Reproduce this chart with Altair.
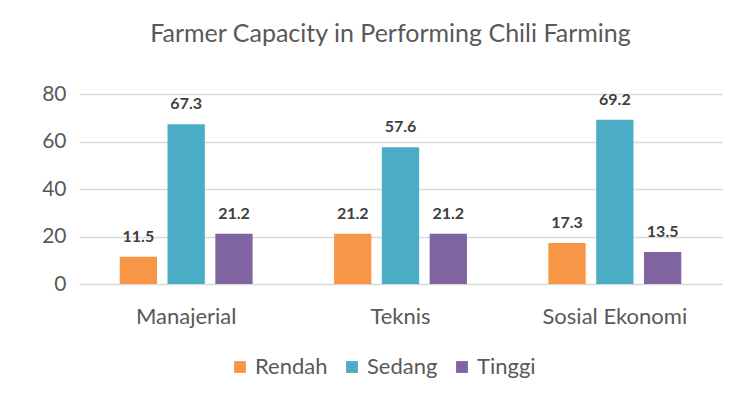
import altair as alt
import pandas as pd

categories = ["Manajerial", "Teknis", "Sosial Ekonomi"]
levels = ["Rendah", "Sedang", "Tinggi"]
rendah = [11.5, 21.2, 17.3]
sedang = [67.3, 57.6, 69.2]
tinggi = [21.2, 21.2, 13.5]
colors = ["#F79646", "#4BACC6", "#8064A2"]

rows = []
for i, c in enumerate(categories):
    for lvl, vals in zip(levels, [rendah, sedang, tinggi]):
        rows.append({"Aspek": c, "Level": lvl, "Nilai": vals[i]})
df = pd.DataFrame(rows)

FONT = "Lato"

base = alt.Chart(df).encode(
    x=alt.X("Aspek:N", sort=categories, title=None,
            scale=alt.Scale(paddingInner=0.38, paddingOuter=0.19),
            axis=alt.Axis(labelAngle=0, labelFontSize=22, labelColor="#595959",
                          labelFont=FONT, ticks=False, domain=False, labelPadding=22)),
    xOffset=alt.XOffset("Level:N", sort=levels, scale=alt.Scale(paddingInner=0.22, paddingOuter=0.0)),
    y=alt.Y("Nilai:Q", title=None, scale=alt.Scale(domain=[0, 80]),
            axis=alt.Axis(values=[0, 20, 40, 60, 80], labelFontSize=21, labelColor="#595959",
                          labelFont=FONT, ticks=False, domain=False, labelPadding=13,
                          gridColor="#d9d9d9", gridWidth=1.3)),
)

bars = base.mark_bar().encode(
    color=alt.Color("Level:N", sort=levels,
                    scale=alt.Scale(domain=levels, range=colors),
                    legend=alt.Legend(title=None, orient="none", direction="horizontal",
                                      legendX=150, legendY=262, symbolType="square",
                                      symbolSize=140, symbolStrokeWidth=0,
                                      labelFontSize=22, labelColor="#595959", labelFont=FONT,
                                      columnPadding=13, labelOffset=4))
)

labels = base.mark_text(baseline="bottom", dy=-12, fontSize=16, fontWeight="bold",
                        color="#404040", font=FONT).encode(
    text=alt.Text("Nilai:Q", format=".1f")
)

chart = (bars + labels).properties(
    width=643, height=190,
    title=alt.TitleParams("Farmer Capacity in Performing Chili Farming", fontSize=25,
                          font=FONT, fontWeight="normal", color="#595959",
                          anchor="middle", offset=36, dx=-10),
    autosize=alt.AutoSizeParams(type="none"),
    padding={"left": 71, "top": 86, "right": 14, "bottom": 110},
).configure_view(stroke=None)

chart.save("out.html", embed_options={"renderer": "svg", "actions": False})
